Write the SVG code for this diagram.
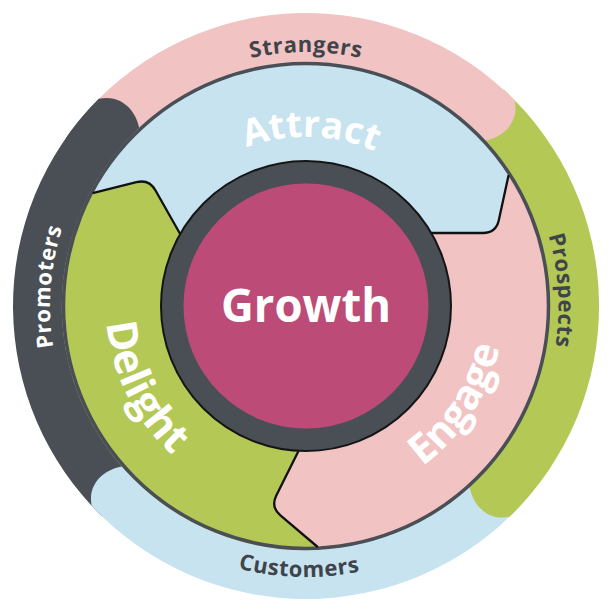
<svg xmlns="http://www.w3.org/2000/svg" xmlns:xlink="http://www.w3.org/1999/xlink" width="612" height="612" viewBox="0 0 612 612">
  <style>
    .pink{fill:#f2c3c3}
    .blue{fill:#c7e3f0}
    .green{fill:#b4c856}
    .dark{fill:#4a4f55}
    .boundary{fill:none;stroke:#111;stroke-width:2.3;stroke-linejoin:round;stroke-linecap:round}
    .outerlbl{font-family:"Open Sans","Liberation Sans",sans-serif;font-weight:700;font-size:22px;letter-spacing:0.6px;fill:#3f444b}
    .midlbl{font-family:"Open Sans","Liberation Sans",sans-serif;font-weight:700;font-size:38px;fill:#ffffff}
    .growth{font-family:"Open Sans","Liberation Sans",sans-serif;font-weight:700;font-size:46px;fill:#ffffff}
  </style>
  <defs>
    <path id="pStrangers" d="M52,306 A254,254 0 0 1 560,306"/>
    <path id="pCustomers" d="M33.1,298.9 A273,273 0 0 0 578.9,313.1"/>
    <path id="pProspects" d="M290.4,50.5 A256,256 0 0 1 321.6,561.5"/>
    <path id="pPromoters" d="M286.8,561.3 A256,256 0 0 1 325.2,50.7"/>
    <path id="pAttract" d="M134.1,300.9 A172,172 0 0 1 477.9,311.1"/>
    <path id="pEngage" d="M330.1,502.5 A198,198 0 0 0 495.3,248.1"/>
    <path id="pDelight" d="M122.6,226.2 A200,200 0 0 0 259.3,500.5"/>
  </defs>

  <!-- outer ring -->
  <g id="promoters">
    <path class="dark" d="M102.5,516.8 A293,293 0 0 1 98.82,98.82 C122.4,93.3 139.4,113.0 140.1,135.4 A238,238 0 0 0 140.7,477.2 Z"/>
  </g>
  <g id="customers">
    <path class="blue" d="M520.3,505.8 A293,293 0 0 1 91.7,505.8 C86.9,482.0 107.2,465.7 129.7,465.9 A238,238 0 0 0 480.1,468.3 Z"/>
    <text class="outerlbl"><textPath href="#pCustomers" xlink:href="#pCustomers" startOffset="50%" text-anchor="middle">Customers</textPath></text>
  </g>
  <g id="prospects">
    <path class="green" d="M503.6,89.6 A293,293 0 0 1 509.5,516.8 C485.9,521.9 469.2,501.9 468.9,479.5 A238,238 0 0 0 466.5,130.2 Z"/>
    <text class="outerlbl"><textPath href="#pProspects" xlink:href="#pProspects" startOffset="50%" text-anchor="middle">Prospects</textPath></text>
  </g>
  <g id="strangers">
    <path class="pink" d="M88.3,109.9 A293,293 0 0 1 514.6,100.3 C520.0,123.9 500.2,140.7 477.8,141.3 A238,238 0 0 0 129.1,146.7 Z"/>
    <text class="outerlbl"><textPath href="#pStrangers" xlink:href="#pStrangers" startOffset="50%" text-anchor="middle">Strangers</textPath></text>
  </g>
  <g id="promoters-cap">
    <path class="dark" d="M66.0,137.9 A293,293 0 0 1 98.82,98.82 C122.4,93.3 139.4,113.0 140.1,135.4 A238,238 0 0 0 111.0,169.5 Z"/>
    <text class="outerlbl" style="fill:#ffffff"><textPath href="#pPromoters" xlink:href="#pPromoters" startOffset="50%" text-anchor="middle">Promoters</textPath></text>
  </g>

  <!-- middle ring -->
  <g id="engage">
    <circle class="pink" cx="306" cy="306" r="243"/>
  </g>
  <g id="attract">
    <path class="blue" d="M89.2,193.9 A244,244 0 0 1 509.5,171.2 L498.8,220.3 Q496,233 483,233 L425.5,233 A140,140 0 0 0 183,239 L155.4,190.3 Q149,179 136.4,182.2 Z"/>
  </g>
  <g id="delight">
    <path class="green" d="M89.2,193.9 A244,244 0 0 0 320.9,549.8 L280.4,515.4 Q270.5,507 276.3,495.4 L301,446 A140,140 0 0 1 183,239 L155.4,190.3 Q149,179 136.4,182.2 Z"/>
  </g>

  <g id="connectors">
    <circle cx="306" cy="306" r="242.5" fill="none" stroke="#4a4f55" stroke-width="3.5"/>
    <path class="boundary" d="M93.6,192.8 L136.4,182.2 Q149,179 155.4,190.3 L183,239"/>
    <path class="boundary" d="M508.4,176 L498.8,220.3 Q496,233 483,233 L425.5,233"/>
    <path class="boundary" d="M301,446 L276.3,495.4 Q270.5,507 280.4,515.4 L317.1,546.5"/>
  </g>

  <g id="labels-middle">
    <text class="midlbl" style="font-size:37px"><textPath href="#pAttract" xlink:href="#pAttract" startOffset="50%" text-anchor="middle">Attract</textPath></text>
    <text class="midlbl" style="font-size:41px"><textPath href="#pEngage" xlink:href="#pEngage" startOffset="50%" text-anchor="middle">Engage</textPath></text>
    <text class="midlbl" style="font-size:42px"><textPath href="#pDelight" xlink:href="#pDelight" startOffset="50%" text-anchor="middle">Delight</textPath></text>
  </g>

  <g id="growth">
    <circle cx="306" cy="306" r="145" fill="#4a4f55" stroke="#151515" stroke-width="2"/>
    <circle cx="306" cy="306" r="122.5" fill="#bd4b77"/>
    <text class="growth" x="306" y="322" text-anchor="middle" textLength="170" lengthAdjust="spacingAndGlyphs">Growth</text>
  </g>
</svg>
